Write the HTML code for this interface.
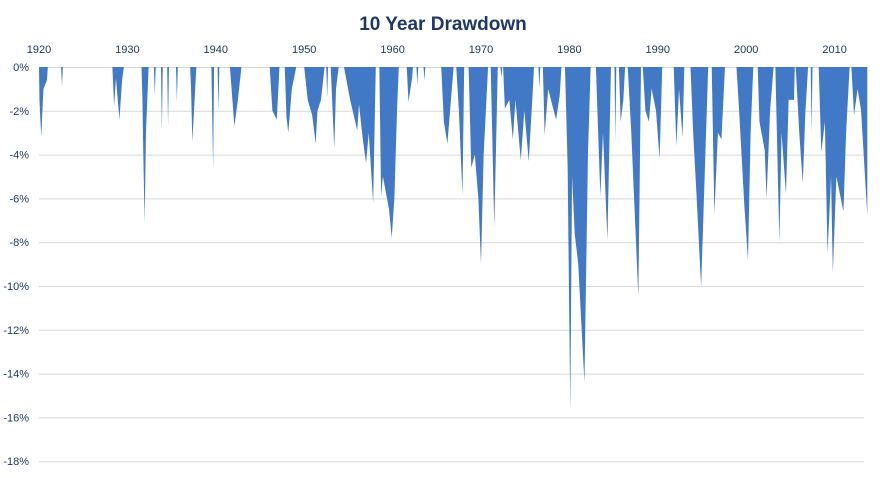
<!DOCTYPE html>
<html><head><meta charset="utf-8">
<style>
html,body{margin:0;padding:0;background:#fff;}
svg{display:block;font-family:"Liberation Sans",sans-serif;}
</style></head>
<body>
<svg id="chart" width="885" height="478" viewBox="0 0 885 478">
<text x="443" y="30" text-anchor="middle" font-size="19" font-weight="bold" fill="#1f3864">10 Year Drawdown</text>
<g id="grid"></g><g id="ylabels"></g><g id="xlabels"></g><g id="series"></g>
</svg>
<script>
const xTickYears=[1920,1930,1940,1950,1960,1970,1980,1990,2000,2010];
const yTicks=[0,-2,-4,-6,-8,-10,-12,-14,-16,-18];
const years=[1920.0,1920.05,1920.25,1920.5,1920.9,1921.0,1922.5,1922.6,1922.7,1928.3,1928.5,1928.7,1929.1,1929.4,1929.6,1931.6,1931.7,1931.8,1931.95,1932.1,1932.4,1933.0,1933.1,1933.2,1933.8,1933.9,1934.0,1934.5,1934.6,1934.7,1935.5,1935.6,1935.7,1937.1,1937.2,1937.35,1937.8,1939.5,1939.7,1939.8,1940.2,1940.3,1940.4,1941.6,1942.1,1942.5,1942.9,1946.1,1946.4,1946.9,1947.2,1947.8,1948.0,1948.2,1948.6,1949.1,1950.0,1950.4,1950.9,1951.3,1951.5,1951.9,1952.3,1952.5,1952.6,1952.7,1953.0,1953.4,1953.6,1953.9,1954.5,1955.2,1956.0,1956.2,1956.6,1957.0,1957.3,1957.8,1958.0,1958.1,1958.5,1958.7,1958.9,1959.6,1959.9,1960.2,1960.5,1960.7,1961.6,1961.8,1962.2,1962.3,1962.7,1962.8,1962.9,1963.5,1963.6,1963.7,1965.5,1965.8,1966.2,1966.6,1966.9,1967.2,1967.5,1967.9,1968.1,1968.6,1968.9,1969.3,1969.7,1970.0,1970.3,1970.8,1971.1,1971.5,1971.9,1972.2,1972.3,1972.4,1972.5,1972.7,1973.2,1973.6,1973.9,1974.5,1974.9,1975.4,1975.8,1976.0,1976.5,1976.6,1976.7,1977.0,1977.2,1977.6,1978.1,1978.5,1978.9,1979.1,1979.5,1979.8,1980.1,1980.3,1980.6,1981.0,1981.7,1982.1,1982.4,1983.0,1983.5,1983.8,1984.3,1984.7,1985.1,1985.2,1985.3,1985.6,1985.8,1986.1,1986.3,1986.6,1987.0,1987.8,1988.1,1988.3,1988.6,1989.0,1989.3,1989.8,1990.2,1990.5,1991.8,1992.1,1992.4,1992.8,1993.0,1993.7,1994.0,1994.4,1994.9,1995.3,1995.7,1996.1,1996.4,1996.8,1997.2,1997.6,1998.9,1999.2,1999.8,2000.2,2000.5,2000.8,2001.3,2001.5,2002.1,2002.3,2002.7,2003.1,2003.3,2003.75,2004.0,2004.5,2004.8,2005.4,2005.5,2005.6,2006.0,2006.4,2006.7,2007.0,2007.3,2007.4,2007.5,2008.2,2008.5,2008.9,2009.2,2009.6,2009.8,2010.2,2011.0,2011.3,2011.7,2011.9,2012.2,2012.6,2013.0,2013.7];
const drawdown=[0,-1.5,-3.2,-1,-0.6,0,0,-0.9,0,0,-1.8,-0.5,-2.4,-0.6,0,0,-1.5,-4,-7.1,-3,0,0,-1.3,0,0,-2.9,0,0,-2.7,0,0,-1.6,0,0,-1,-3.4,0,0,-4.7,0,0,-2.0,0,0,-2.7,-1.5,0,0,-2.0,-2.4,0,0,-2.3,-3.0,-1,0,0,-1.5,-2.2,-3.5,-2,-1.5,0,0,-1.4,0,0,-3.7,-1,0,0,-1.5,-2.9,-1.7,-3.2,-4.4,-3,-6.2,-2,0,0,-5.9,-5,-6.5,-7.8,-6,-2,0,0,-1.6,-0.5,0,0,-0.8,0,0,-0.6,0,0,-2.5,-3.5,-1.5,0,0,-2,-5.85,0,0,-4.6,-4,-6,-9.0,-4,0,0,-7.3,0,0,-0.5,0,0,-1.9,-1.5,-3.3,-1.5,-4.25,-2,-4.3,-1.5,0,0,-1,0,0,-3.1,-1,-1.8,-2.4,-1.3,0,0,-4.5,-15.7,-5,-7.6,-9,-14.4,-4,0,0,-5.9,-3,-7.9,0,0,-3.4,0,0,-2.5,-1.5,0,0,-3,-10.5,0,0,-2,-2.5,-1,-2,-4.2,0,0,-3.6,-1,-3.2,0,0,-3,-6,-10.05,-5,0,0,-6.7,-3,-3.3,0,0,-2,-6.4,-8.8,-3,0,0,-2.5,-3.8,-6.0,-2,0,0,-8.0,-3,-5.8,-1.5,-1.5,0,0,-3,-5.3,-2,0,0,-3,0,0,-3.9,-2.5,-8.5,-5,-9.4,-5,-6.6,-3,0,0,-2.2,-1,-2,-6.8];

const NS="http://www.w3.org/2000/svg";
const X0=39, PXY=8.84, Y0=67, PXP=21.9, RIGHT=864, LEFT=39;
function xScale(yr){return X0+(yr-1920)*PXY;}
function yScale(v){return Y0-v*PXP;}

const grid=document.getElementById('grid'), yl=document.getElementById('ylabels'), xl=document.getElementById('xlabels'), ser=document.getElementById('series');
yTicks.forEach(t=>{
  const ln=document.createElementNS(NS,'line');
  ln.setAttribute('x1',LEFT);ln.setAttribute('x2',RIGHT);
  ln.setAttribute('y1',yScale(t)+0.5);ln.setAttribute('y2',yScale(t)+0.5);
  ln.setAttribute('stroke','#d9d9d9');ln.setAttribute('stroke-width','1');
  
  
  grid.appendChild(ln);
  const tx=document.createElementNS(NS,'text');
  tx.setAttribute('x',29);tx.setAttribute('y',yScale(t)+4);
  tx.setAttribute('text-anchor','end');tx.setAttribute('font-size','11');tx.setAttribute('fill','#1f3864');
  tx.textContent=t+'%';
  
  
  yl.appendChild(tx);
});
xTickYears.forEach(y=>{
  const tx=document.createElementNS(NS,'text');
  tx.setAttribute('x',xScale(y));tx.setAttribute('y',53);
  tx.setAttribute('text-anchor','middle');tx.setAttribute('font-size','11');tx.setAttribute('fill','#1f3864');
  tx.textContent=y;
  
  
  xl.appendChild(tx);
});
let d='M'+xScale(years[0])+','+yScale(0);
years.forEach((yr,i)=>{d+=' L'+xScale(yr).toFixed(2)+','+yScale(drawdown[i]).toFixed(2);});
d+=' L'+xScale(years[years.length-1]).toFixed(2)+','+yScale(0)+' Z';
const area=document.createElementNS(NS,'path');
area.setAttribute('d',d);area.setAttribute('fill','#4179c6');


ser.appendChild(area);
</script>
</body></html>
